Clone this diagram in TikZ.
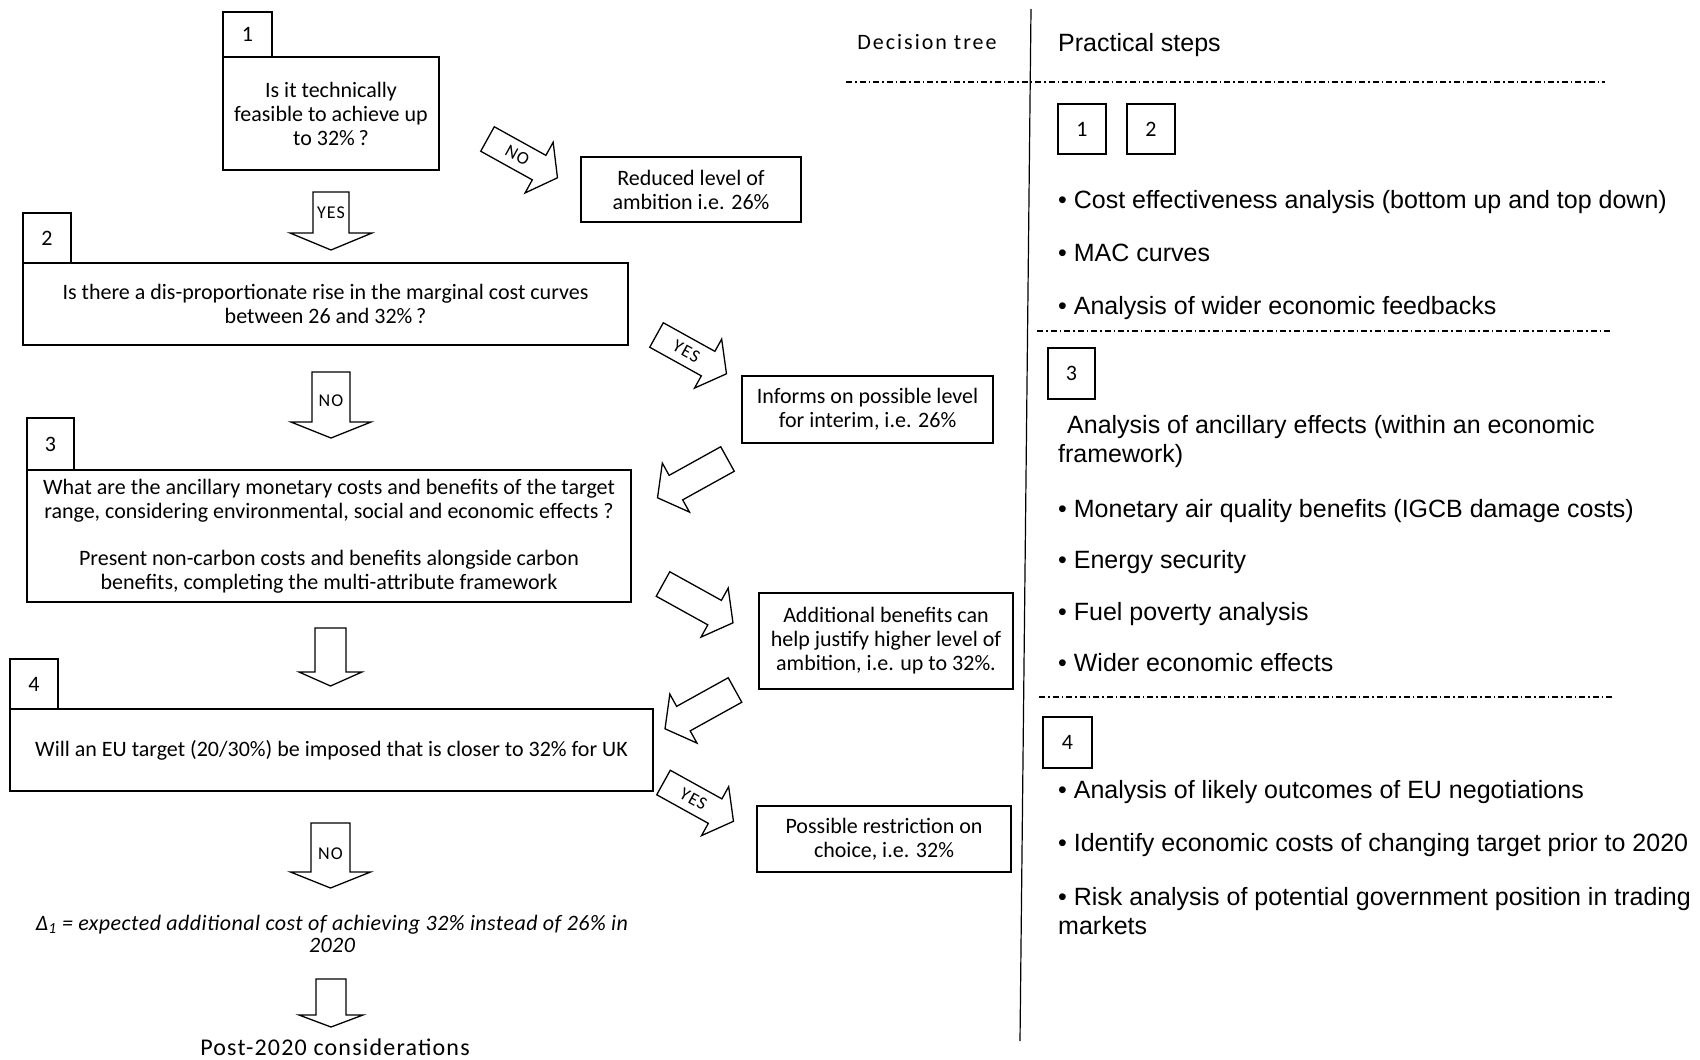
\documentclass[tikz,border=0pt]{standalone}
\usepackage{fontspec}
\setmainfont{Carlito}
\newfontfamily\stepfont{Liberation Sans}

% Block arrow: #1 name of a coordinate on the shaft, #2 tail centre,
% #3 direction, #4 total length, #5 shaft width, #6 head width, #7 head length
\newcommand\fatarrow[7]{%
  \begin{scope}[shift={#2}, rotate=#3]
    \draw[fat] (0,-#5/2) -- (#4-#7,-#5/2) -- (#4-#7,-#6/2) -- (#4,0)
      -- (#4-#7,#6/2) -- (#4-#7,#5/2) -- (0,#5/2) -- cycle;
    \coordinate (#1) at ({0.58*(#4-#7)},0);
  \end{scope}}

\begin{document}
\begin{tikzpicture}[x=1pt, y=-1pt,
  qbox/.style={draw, line width=1.4pt, align=center, inner sep=0pt,
    font=\fontsize{22}{24}\selectfont},
  tabbox/.style={draw, line width=1.4pt, inner sep=0pt, minimum width=48pt,
    minimum height=50pt, font=\fontsize{22}{24}\selectfont},
  fat/.style={draw, line width=1.3pt, line join=miter},
  flabel/.style={inner sep=0pt, font=\fontsize{18}{18}\selectfont\addfontfeature{LetterSpace=6}},
  steptext/.style={anchor=base west, inner sep=0pt, align=left,
    font=\stepfont\fontsize{25}{29}\selectfont},
  sepline/.style={line width=1.1pt, dash pattern=on 6pt off 3pt on 1.5pt off 3pt},
]
\useasboundingbox (0,0) rectangle (1700,1060);

% ---------------- decision tree: question boxes ----------------
\node[qbox, minimum width=216pt, minimum height=113pt] (q1) at (331,113.5)
  {Is it technically\\feasible to achieve up\\to 32\%\,?};
\node[tabbox, minimum width=49pt, minimum height=45pt] (t1) at (247.5,34.5) {1};

\node[qbox, minimum width=605pt, minimum height=82pt] (q2) at (325.5,304)
  {Is there a dis-proportionate rise in the marginal cost curves\\between 26 and 32\%\,?};
\node[tabbox] (t2) at (47,238) {2};

\node[qbox, minimum width=604pt, minimum height=132pt] (q3) at (329,536)
  {What are the ancillary monetary costs and benefits of the target\\
   range, considering environmental, social and economic effects ?\\[23pt]
   Present non-carbon costs and benefits alongside carbon\\
   benefits, completing the multi-attribute framework};
\node[tabbox, minimum width=47pt, minimum height=52pt] (t3) at (50.5,444) {3};

\node[qbox, minimum width=643pt, minimum height=82pt] (q4) at (331.5,750)
  {Will an EU target (20/30\%) be imposed that is closer to 32\% for UK};
\node[tabbox] (t4) at (34,684) {4};

% ---------------- outcome boxes ----------------
\node[qbox, minimum width=220pt, minimum height=65pt] (o1) at (691,189.5)
  {Reduced level of\\ambition i.e. 26\%};
\node[qbox, minimum width=251pt, minimum height=67pt] (o2) at (867.5,409.5)
  {Informs on possible level\\for interim, i.e. 26\%};
\node[qbox, minimum width=254pt, minimum height=96pt] (o3) at (886,641)
  {Additional benefits can\\help justify higher level of\\ambition, i.e. up to 32\%.};
\node[qbox, minimum width=254pt, minimum height=66pt] (o4) at (884,839)
  {Possible restriction on\\choice, i.e. 32\%};

\node[align=center, inner sep=0pt, font=\itshape\fontsize{22}{22}\selectfont\addfontfeature{LetterSpace=2}] (delta) at (332,934)
  {Δ\textsubscript{1} = expected additional cost of achieving 32\% instead of 26\% in\\2020};
\node[inner sep=0pt, font=\fontsize{24}{24}\selectfont\addfontfeature{LetterSpace=5}] (post) at (335,1047)
  {Post-2020 considerations};

% ---------------- block arrows ----------------
\fatarrow{v1}{(331,192)}{-90}{58}{36}{82}{17}
\node[flabel, yshift=3pt] (lv1) at (v1) {YES};
\fatarrow{v2}{(331,372)}{-90}{66}{38}{80}{16}
\node[flabel, yshift=0pt] (lv2) at (v2) {NO};
\fatarrow{v3}{(330.5,628)}{-90}{58}{31}{63}{14}
\fatarrow{v4}{(330.5,823)}{-90}{65}{39}{80}{16}
\node[flabel, yshift=-2pt] (lv4) at (v4) {NO};
\fatarrow{v5}{(331,979)}{-90}{48}{30}{64}{12}

\fatarrow{a1}{(487.5,139)}{-29}{80}{28}{58}{21}
\node[flabel, rotate=-29] (la1) at (a1) {NO};
\fatarrow{a2}{(656.5,335)}{-29}{80}{28}{56}{21}
\node[flabel, rotate=-29] (la2) at (a2) {YES};
\fatarrow{a3}{(727.5,459)}{-151}{80}{28}{56}{21}
\fatarrow{a4}{(663,584)}{-29}{80}{28}{56}{21}
\fatarrow{a5}{(735,690)}{-151}{80}{28}{56}{21}
\fatarrow{a6}{(663.5,782.5)}{-29}{80}{28}{56}{21}
\node[flabel, rotate=-29] (la6) at (a6) {YES};

% ---------------- practical steps column ----------------
\coordinate (dtop) at (1031,9);
\coordinate (dbot) at (1020,1041);
\draw[line width=1.2pt] (dtop) -- (dbot);

\node[inner sep=0pt, font=\fontsize{22}{24}\selectfont\addfontfeature{LetterSpace=9}] (dtree) at (927,42) {Decision tree};
\node[steptext] (psteps) at (1058,51) {Practical steps};

\coordinate (h1a) at (846,82);  \coordinate (h1b) at (1605,82);
\coordinate (h2a) at (1037,331); \coordinate (h2b) at (1612,331);
\coordinate (h3a) at (1039,697); \coordinate (h3b) at (1612,697);
\draw[sepline] (h1a) -- (h1b);
\draw[sepline] (h2a) -- (h2b);
\draw[sepline] (h3a) -- (h3b);

\node[tabbox] (s1) at (1082,129) {1};
\node[tabbox] (s2) at (1151,129) {2};
\node[steptext] (p11) at (1058,208) {• Cost effectiveness analysis (bottom up and top down)};
\node[steptext] (p12) at (1058,261) {• MAC curves};
\node[steptext] (p13) at (1058,314) {• Analysis of wider economic feedbacks};

\node[tabbox, minimum width=47pt, minimum height=51pt] (s3) at (1071.5,373.5) {3};
% base anchor of a two-line node sits on its last line
\node[steptext] (p30) at (1058,462) {\hspace*{9pt}Analysis of ancillary effects (within an economic\\framework)};
\node[steptext] (p31) at (1058,517) {• Monetary air quality benefits (IGCB damage costs)};
\node[steptext] (p32) at (1058,568) {• Energy security};
\node[steptext] (p33) at (1058,620) {• Fuel poverty analysis};
\node[steptext] (p34) at (1058,671) {• Wider economic effects};

\node[tabbox, minimum width=49pt, minimum height=51pt] (s4) at (1067.5,742.5) {4};
\node[steptext] (p41) at (1058,798) {• Analysis of likely outcomes of EU negotiations};
\node[steptext] (p42) at (1058,851) {• Identify economic costs of changing target prior to 2020};
\node[steptext] (p43) at (1058,934) {• Risk analysis of potential government position in trading\\markets};
\end{tikzpicture}
\end{document}
